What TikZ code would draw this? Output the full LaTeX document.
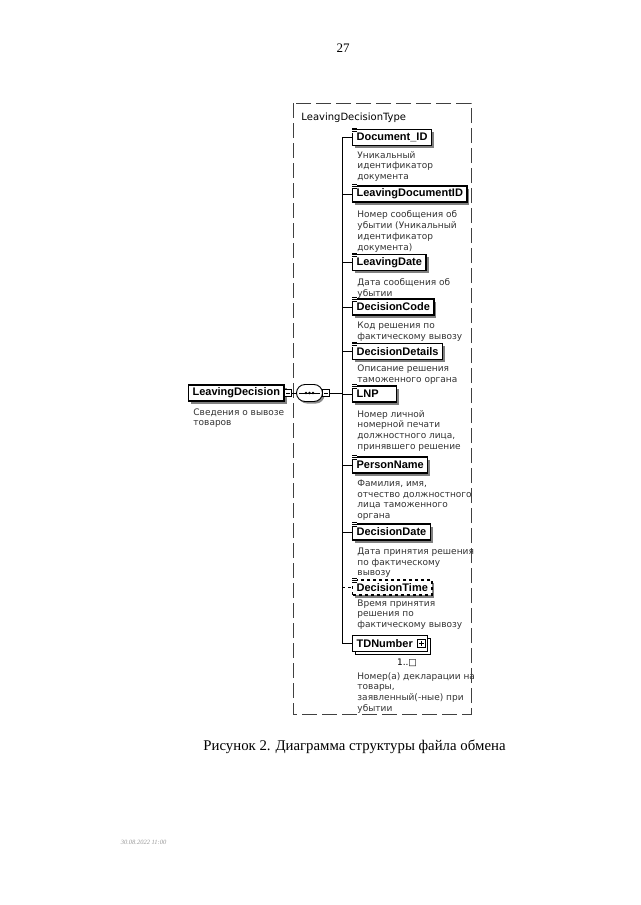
\documentclass[tikz,border=0pt]{standalone}
\usepackage{fontspec}
\setmainfont{Liberation Serif}
\newfontfamily\namefont{Liberation Sans}
\newfontfamily\descfont{DejaVu Sans}
\usetikzlibrary{shapes.misc,shadows}
\begin{document}
\begin{tikzpicture}[x=1pt,y=-1pt,line width=0.9pt,
    elem/.style={draw, line width=1.2pt, fill=white, anchor=west, minimum height=16pt, inner xsep=4pt, inner ysep=0pt,
        font=\namefont\bfseries\fontsize{11}{12}\selectfont,
        drop shadow={shadow xshift=2.5pt, shadow yshift=-2.5pt, fill=black!50, opacity=1}},
    desc/.style={anchor=north west, align=left, inner sep=0pt, text=black!80, font=\descfont\fontsize{9}{10.7}\selectfont},
    collapse/.style={draw, fill=white, line width=0.6pt, minimum size=7pt, inner sep=0pt,
        path picture={\draw[line width=0.6pt] ([xshift=1.5pt]path picture bounding box.west) -- ([xshift=-1.5pt]path picture bounding box.east);}},
    expand/.style={draw, fill=white, line width=0.6pt, minimum size=8pt, inner sep=0pt,
        path picture={\draw[line width=0.6pt] ([xshift=1.5pt]path picture bounding box.west) -- ([xshift=-1.5pt]path picture bounding box.east)
            ([yshift=1.5pt]path picture bounding box.south) -- ([yshift=-1.5pt]path picture bounding box.north);}},
    seqbox/.style={draw, rounded rectangle, fill=white, minimum width=26pt, minimum height=17pt, inner sep=0pt,
        drop shadow={shadow xshift=2pt, shadow yshift=-2pt, fill=black!45, opacity=1}}]
    \useasboundingbox[fill=white] (0,0) rectangle (640,905);
    \draw[black!75, line width=0.8pt, dash pattern=on 15pt off 5pt] (293,103) rectangle (471,714);
    \node[anchor=west, inner sep=0pt, font=\descfont\fontsize{10}{12}\selectfont] (tname) at (301,118) {LeavingDecisionType};

    \node[elem] (root) at (188,393) {LeavingDecision};
    \node[collapse, anchor=west] (rootsq) at ([xshift=-0.5pt]root.east) {};
    \node[desc] (rootd) at (193,408) {Сведения о вывозе\\товаров};
    \node[seqbox] (seq) at (309.5,393) {};
    \draw[line width=0.8pt] ([xshift=3pt]seq.west) -- ([xshift=-3pt]seq.east);
    \foreach \d in {-3.5,0,3.5} \fill ([xshift=\d pt]seq.center) circle (1.4pt);
    \node[collapse, anchor=west] (seqsq) at ([xshift=-0.5pt]seq.east) {};
    \coordinate (trunk) at (342,393);
    \draw (rootsq) -- (seq);
    \draw (seqsq) -- (trunk);

    \node[elem] (doc) at (352,137.5) {Document\_ID};
    \node[elem] (ldoc) at (352,194) {LeavingDocumentID};
    \node[elem] (ldate) at (352,262.5) {LeavingDate};
    \node[elem] (dcode) at (352,307) {DecisionCode};
    \node[elem] (ddet) at (352,351.5) {DecisionDetails};
    \node[elem, minimum width=40pt] (lnp) at (352,394) {LNP\kern14pt};
    \node[elem] (pname) at (352,465) {PersonName};
    \node[elem] (ddate) at (352,532) {DecisionDate};
    \node[elem, dashed, minimum height=15pt] (dtime) at (352,587.5) {DecisionTime};
    \node[elem, copy shadow={shadow xshift=3pt, shadow yshift=-3pt, fill=white, draw}] (tdn) at (352,643.5) {TDNumber\kern11pt};
    \node[expand] (tdnsq) at ([xshift=-7pt]tdn.east) {};
    \node[desc, anchor=center, text=black] (tdnm) at (407,663) {1..□};

    \foreach \n in {doc,ldoc,ldate,dcode,ddet,lnp,pname,ddate,dtime} {
        \fill[white] ([shift={(-0.8pt,1pt)}]\n.north west) rectangle ++(6,5);
        \foreach \k in {0.8,-0.8,-2.4} \draw[line width=0.5pt] ([shift={(0.2pt,\k pt)}]\n.north west) -- ++(4.5,0);
    }

    \draw (trunk |- doc.west) -- (trunk |- tdn.west);
    \foreach \n in {doc,ldoc,ldate,dcode,ddet,lnp,pname,ddate,tdn}
        \draw (trunk |- \n.west) -- (\n.west);
    \draw[dashed] (trunk |- dtime.west) -- (dtime.west);

    \node[desc] (docd) at (357,151) {Уникальный\\идентификатор\\документа};
    \node[desc] (ldocd) at (357,210.5) {Номер сообщения об\\убытии (Уникальный\\идентификатор\\документа)};
    \node[desc] (ldated) at (357,278.5) {Дата сообщения об\\убытии};
    \node[desc] (dcoded) at (357,321.5) {Код решения по\\фактическому вывозу};
    \node[desc] (ddetd) at (357,364.5) {Описание решения\\таможенного органа};
    \node[desc] (lnpd) at (357,410) {Номер личной\\номерной печати\\должностного лица,\\принявшего решение};
    \node[desc] (pnamed) at (357,479.5) {Фамилия, имя,\\отчество должностного\\лица таможенного\\органа};
    \node[desc] (ddated) at (357,547.5) {Дата принятия решения\\по фактическому\\вывозу};
    \node[desc] (dtimed) at (357,599) {Время принятия\\решения по\\фактическому вывозу};
    \node[desc] (tdnd) at (357,672) {Номер(а) декларации на\\товары,\\заявленный(-ные) при\\убытии};

    \node[font=\fontsize{13}{15}\selectfont] (pnum) at (343,48) {27};
    \node[font=\fontsize{14.8}{17}\selectfont] (cap) at (354.5,747) {Рисунок 2. Диаграмма структуры файла обмена};
    \node[anchor=west, font=\itshape\fontsize{6.5}{8}\selectfont, text=black!40] (stamp) at (117,842) {30.08.2022 11:00};
\end{tikzpicture}
\end{document}
